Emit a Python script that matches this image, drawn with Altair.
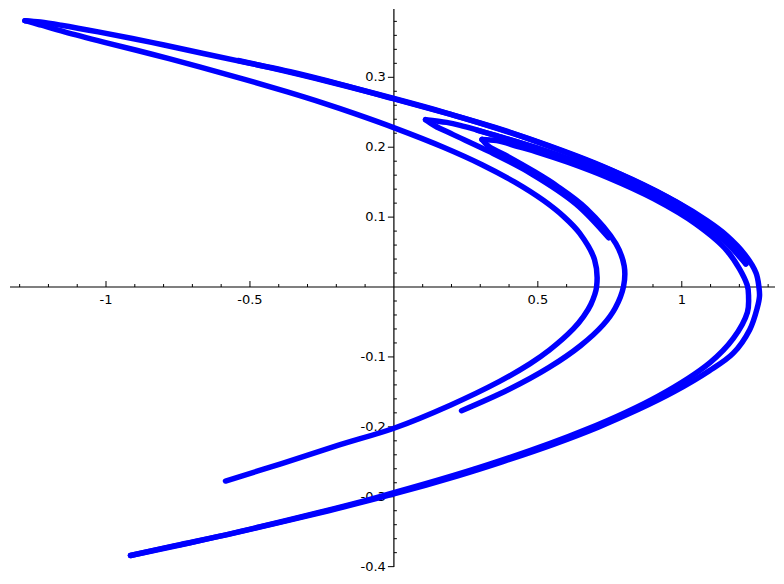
import altair as alt
import pandas as pd

X_DOMAIN = [-1.3335, 1.3238]
Y_DOMAIN = [-0.4005, 0.3977]

# Strands of the attractor (x, y)
S1_X = [-1.282, -1.228, -1.156, -1.027, -0.842, -0.662, -0.500, -0.360, -0.185, 0.010, 0.188, 0.354, 0.540, 0.700, 0.820, 0.980, 1.087, 1.155, 1.220, 1.258, 1.268, 1.270, 1.262, 1.236, 1.178, 1.095, 0.972, 0.850, 0.712, 0.554, 0.376, 0.222, 0.000, -0.227, -0.556, -0.760, -0.915]
S1_Y = [0.3810, 0.3790, 0.3745, 0.3650, 0.3500, 0.3340, 0.3200, 0.3080, 0.2900, 0.2680, 0.2480, 0.2280, 0.2020, 0.1770, 0.1550, 0.1220, 0.0950, 0.0740, 0.0460, 0.0200, 0.0000, -0.0130, -0.0300, -0.0610, -0.0950, -0.1200, -0.1500, -0.1750, -0.2000, -0.2250, -0.2500, -0.2700, -0.2960, -0.3200, -0.3520, -0.3700, -0.3840]

S3_X = [-1.282, -1.262, -1.224, -1.144, -1.005, -0.840, -0.675, -0.519, -0.370, -0.245, -0.136, 0.006, 0.172, 0.306, 0.420, 0.519, 0.592, 0.645, 0.697, 0.704, 0.684, 0.659, 0.623, 0.541, 0.472, 0.367, 0.196, 0.000, -0.195, -0.390, -0.585]
S3_Y = [0.3810, 0.3790, 0.3745, 0.3650, 0.3500, 0.3330, 0.3150, 0.2970, 0.2790, 0.2630, 0.2480, 0.2270, 0.2000, 0.1750, 0.1500, 0.1240, 0.1000, 0.0770, 0.0390, 0.0000, -0.0250, -0.0420, -0.0600, -0.0900, -0.1100, -0.1350, -0.1690, -0.2020, -0.2265, -0.2525, -0.2775]

S2U_X = [0.306, 0.357, 0.431, 0.495, 0.604, 0.740, 0.903, 1.049, 1.159, 1.227, 1.232, 1.228, 1.179, 1.098, 0.918, 0.667, 0.333, -0.064, -0.467, -0.723, -0.915]
S2U_Y = [0.211, 0.2094, 0.201, 0.1935, 0.1785, 0.157, 0.126, 0.090, 0.051, 0.003, -0.015, -0.036, -0.0735, -0.108, -0.156, -0.204, -0.2535, -0.3015, -0.3432, -0.3672, -0.384]

S2L_X = [0.306, 0.330, 0.386, 0.488, 0.565, 0.668, 0.771, 0.800, 0.798, 0.769, 0.727, 0.648, 0.539, 0.397, 0.235]
S2L_Y = [0.211, 0.201, 0.189, 0.165, 0.145, 0.1125, 0.062, 0.030, 0.0015, -0.030, -0.054, -0.084, -0.115, -0.147, -0.177]

H1U_X = [0.110, 0.183, 0.230, 0.361, 0.488, 0.698, 0.832, 0.980, 1.049, 1.080]
H1U_Y = [0.2394, 0.2355, 0.2313, 0.216, 0.200, 0.1695, 0.146, 0.116, 0.099, 0.092]

H1L_X = [0.110, 0.142, 0.206, 0.328, 0.478, 0.632, 0.746]
H1L_Y = [0.2394, 0.2307, 0.218, 0.1944, 0.162, 0.119, 0.0705]

G1U_X = [1.2225, 1.189, 1.157, 1.034, 0.867, 0.488, 0.177, -0.229, -0.442, -0.541]
G1U_Y = [0.033, 0.055, 0.069, 0.108, 0.1464, 0.209, 0.2496, 0.294, 0.315, 0.324]

G1L_X = [1.2225, 1.202, 1.159, 1.044, 0.842, 0.560, 0.291]
G1L_Y = [0.033, 0.0426, 0.062, 0.098, 0.143, 0.190, 0.224]

# Axis ticks and labels
X_MINOR = [-1.3, -1.2, -1.1, -0.9, -0.8, -0.7, -0.6, -0.4, -0.3, -0.2, -0.1,
           0.1, 0.2, 0.3, 0.4, 0.6, 0.7, 0.8, 0.9, 1.1, 1.2, 1.3]
X_MAJOR = [-1.0, -0.5, 0.5, 1.0]
X_LABELS = ["-1", "-0.5", "0.5", "1"]
Y_MINOR = [-0.38, -0.36, -0.34, -0.32, -0.28, -0.26, -0.24, -0.22, -0.18, -0.16,
           -0.14, -0.12, -0.08, -0.06, -0.04, -0.02, 0.02, 0.04, 0.06, 0.08,
           0.12, 0.14, 0.16, 0.18, 0.22, 0.24, 0.26, 0.28, 0.32, 0.34, 0.36, 0.38]
Y_MAJOR = [0.3, 0.2, 0.1, -0.1, -0.2, -0.3, -0.4]
Y_LABELS = ["0.3", "0.2", "0.1", "-0.1", "-0.2", "-0.3", "-0.4"]

strands = {
    "S1": (S1_X, S1_Y), "S3": (S3_X, S3_Y), "S2U": (S2U_X, S2U_Y),
    "S2L": (S2L_X, S2L_Y), "H1U": (H1U_X, H1U_Y), "H1L": (H1L_X, H1L_Y),
    "G1U": (G1U_X, G1U_Y), "G1L": (G1L_X, G1L_Y),
}
rows = []
for name, (xs_, ys_) in strands.items():
    for i, (x, y) in enumerate(zip(xs_, ys_)):
        rows.append({"strand": name, "i": i, "x": x, "y": y})
df = pd.DataFrame(rows)

xsc = alt.Scale(domain=X_DOMAIN, nice=False, zero=False)
ysc = alt.Scale(domain=Y_DOMAIN, nice=False, zero=False)
FONT = "DejaVu Sans"

curves = alt.Chart(df).mark_line(
    color="#0000ff", strokeWidth=5.5, strokeCap="round", strokeJoin="round",
    interpolate="catmull-rom"
).encode(
    x=alt.X("x:Q", scale=xsc, axis=None),
    y=alt.Y("y:Q", scale=ysc, axis=None),
    detail="strand:N",
    order="i:Q",
)

xaxis = alt.Chart(pd.DataFrame({"a": [X_DOMAIN[0]], "b": [X_DOMAIN[1]], "z": [0.0]})).mark_rule(
    color="black", strokeWidth=1.2
).encode(x=alt.X("a:Q", scale=xsc, axis=None), x2="b:Q", y=alt.Y("z:Q", scale=ysc, axis=None))

yaxis = alt.Chart(pd.DataFrame({"a": [Y_DOMAIN[0]], "b": [Y_DOMAIN[1]], "z": [0.0]})).mark_rule(
    color="black", strokeWidth=1.2
).encode(y=alt.Y("a:Q", scale=ysc, axis=None), y2="b:Q", x=alt.X("z:Q", scale=xsc, axis=None))

xminor = alt.Chart(pd.DataFrame({"t": X_MINOR, "z": 0.0})).mark_rule(
    color="black", strokeWidth=1, y2Offset=-3
).encode(x=alt.X("t:Q", scale=xsc, axis=None), y=alt.Y("z:Q", scale=ysc, axis=None), y2="z:Q")

xmajor = alt.Chart(pd.DataFrame({"t": X_MAJOR, "z": 0.0})).mark_rule(
    color="black", strokeWidth=1, y2Offset=-6
).encode(x=alt.X("t:Q", scale=xsc, axis=None), y=alt.Y("z:Q", scale=ysc, axis=None), y2="z:Q")

yminor = alt.Chart(pd.DataFrame({"t": Y_MINOR, "z": 0.0})).mark_rule(
    color="black", strokeWidth=1, x2Offset=3
).encode(y=alt.Y("t:Q", scale=ysc, axis=None), x=alt.X("z:Q", scale=xsc, axis=None), x2="z:Q")

ymajor = alt.Chart(pd.DataFrame({"t": Y_MAJOR, "z": 0.0})).mark_rule(
    color="black", strokeWidth=1, x2Offset=-6
).encode(y=alt.Y("t:Q", scale=ysc, axis=None), x=alt.X("z:Q", scale=xsc, axis=None), x2="z:Q")

xlabels = alt.Chart(pd.DataFrame({"t": X_MAJOR, "lab": X_LABELS, "z": 0.0})).mark_text(
    align="center", baseline="middle", dy=13, fontSize=13, font=FONT, color="black"
).encode(x=alt.X("t:Q", scale=xsc, axis=None), y=alt.Y("z:Q", scale=ysc, axis=None), text="lab:N")

ylabels = alt.Chart(pd.DataFrame({"t": Y_MAJOR, "lab": Y_LABELS, "z": 0.0})).mark_text(
    align="right", baseline="middle", dx=-8, fontSize=13, font=FONT, color="black"
).encode(y=alt.Y("t:Q", scale=ysc, axis=None), x=alt.X("z:Q", scale=xsc, axis=None), text="lab:N")

chart = alt.layer(
    xaxis, yaxis, xminor, xmajor, yminor, ymajor, xlabels, ylabels, curves
).properties(
    width=765, height=558,
    padding={"left": 2, "top": 1, "right": 0, "bottom": 12},
    autosize="none",
).configure_view(stroke=None)

chart.save("out.html", embed_options={"renderer": "svg", "actions": False})
